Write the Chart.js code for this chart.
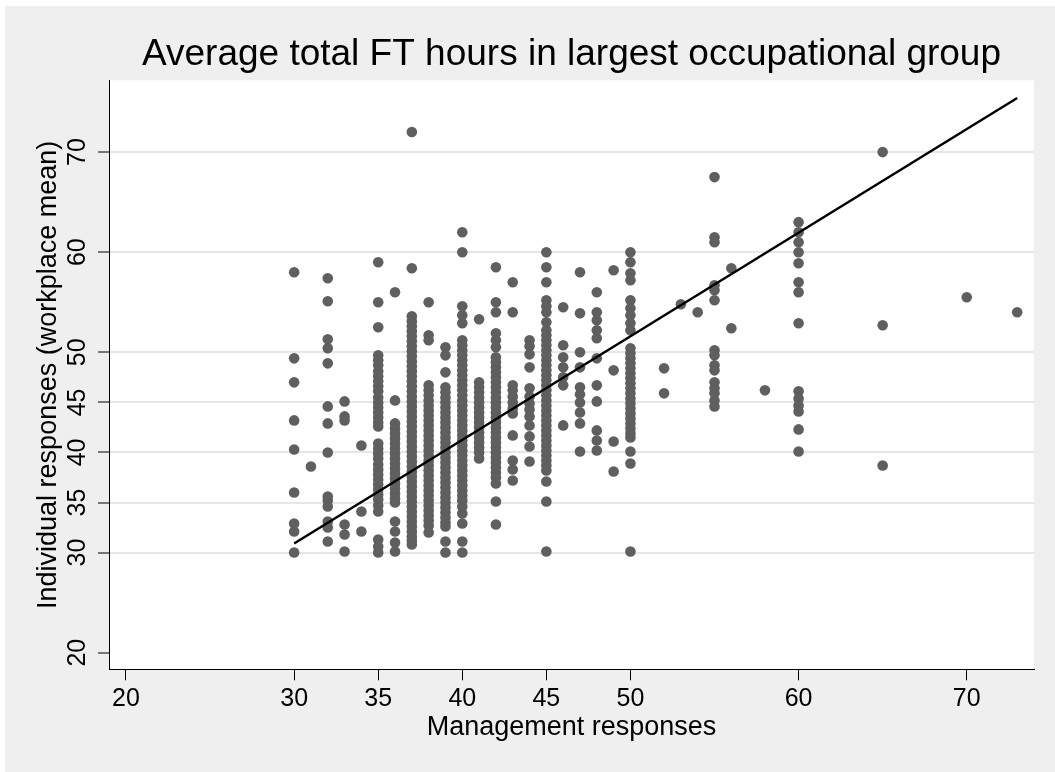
<!DOCTYPE html>
<html>
<head>
<meta charset="utf-8">
<title>Average total FT hours</title>
<script src="https://cdn.jsdelivr.net/npm/chart.js@4.4.1/dist/chart.umd.min.js"></script>
<style>
	html, body { margin: 0; padding: 0; background: #fff; }
	#frame { position: absolute; left: 5px; top: 6px; width: 1050px; height: 766px; background: #efefef; }
	#myChart { display: block; }
</style>
</head>
<body>
<div id="frame"><canvas id="myChart" width="1050" height="766"></canvas></div>
<script>
// management response (x) for each column of points
const mgmt = [30, 31, 32, 33, 34, 35, 36, 37, 38, 39, 40, 41, 42, 43, 44, 45, 46, 47, 48, 49, 50,
	52, 53, 54, 55, 56, 58, 60, 65, 70, 73];

// individual responses (workplace mean)
const indiv = [
	[58.0, 49.4, 47.0, 43.2, 40.3, 36.0, 32.9, 32.1, 30.0],
	[38.6],
	[57.4, 55.1, 51.3, 50.4, 48.9, 44.6, 42.9, 40.0, 35.6, 35.2, 34.6, 33.1, 32.5, 31.1],
	[45.1, 43.6, 43.2, 32.8, 31.8, 30.1],
	[40.7, 34.1, 32.1],
	[59.0, 55.0, 52.5, 49.7, 49.2, 48.7, 48.1, 47.6, 47.1, 46.6, 46.1, 45.5, 45.0, 44.5, 44.0, 43.5, 43.0, 42.6,
		40.9, 40.4, 39.9, 39.4, 38.8, 38.3, 37.8, 37.3, 36.8, 36.3, 35.8, 35.3, 34.7, 34.1, 31.3, 30.6, 30.0],
	[56.0, 45.2, 42.9, 42.4, 41.9, 41.4, 40.9, 40.4, 39.9, 39.4, 38.9, 38.4, 37.9, 37.4, 36.9, 36.4, 35.9, 35.4,
		35.0, 33.1, 32.1, 31.0, 30.1],
	[72.0, 58.4, 53.6, 53.1, 52.6, 52.1, 51.6, 51.1, 50.6, 50.1, 49.6, 49.1, 48.6, 48.1, 47.6, 47.1, 46.6, 46.1,
		45.6, 45.1, 44.6, 44.1, 43.6, 43.1, 42.6, 42.1, 41.6, 41.1, 40.6, 40.1, 39.6, 39.1, 38.6, 38.1, 37.6, 37.1,
		36.6, 36.1, 35.6, 35.1, 34.6, 34.1, 33.6, 33.1, 32.6, 32.1, 31.6, 31.2, 30.8],
	[55.0, 51.7, 51.2, 46.7, 46.2, 45.7, 45.2, 44.7, 44.2, 43.7, 43.2, 42.7, 42.2, 41.7, 41.2, 40.7, 40.2, 39.7,
		39.2, 38.7, 38.2, 37.7, 37.2, 36.7, 36.2, 35.7, 35.2, 34.7, 34.2, 33.7, 33.2, 32.7, 32.0],
	[50.5, 49.7, 48.0, 46.5, 46.0, 45.5, 45.0, 44.5, 44.0, 43.5, 43.0, 42.5, 42.0, 41.5, 41.0, 40.5, 40.0, 39.5,
		39.0, 38.5, 38.0, 37.5, 37.0, 36.5, 36.0, 35.5, 35.0, 34.5, 34.0, 33.5, 33.0, 32.6, 31.1, 30.0],
	[62.0, 60.0, 54.6, 53.7, 52.9, 51.2, 50.7, 50.2, 49.7, 49.2, 48.7, 48.2, 47.7, 47.2, 46.7, 46.2, 45.7, 45.2,
		44.7, 44.2, 43.7, 43.2, 42.7, 42.2, 41.7, 41.2, 40.7, 40.2, 39.7, 39.2, 38.7, 38.2, 37.7, 37.2, 36.7, 36.2,
		35.7, 35.2, 34.6, 33.9, 32.9, 31.1, 30.0],
	[53.3, 47.0, 46.5, 46.0, 45.5, 45.0, 44.5, 44.0, 43.5, 43.0, 42.5, 42.0, 41.5, 41.0, 40.5, 40.0, 39.4],
	[58.5, 55.0, 54.0, 51.9, 51.2, 50.5, 49.5, 49.0, 48.5, 48.0, 47.5, 47.0, 46.5, 46.0, 45.5, 45.0, 44.5, 44.0,
		43.5, 43.0, 42.5, 42.0, 41.5, 41.0, 40.5, 40.0, 39.5, 39.0, 38.5, 38.0, 37.5, 36.9, 35.1, 32.8],
	[57.0, 54.0, 46.7, 46.2, 45.6, 45.0, 44.4, 43.9, 41.7, 39.2, 38.3, 37.2],
	[51.2, 50.6, 49.8, 48.5, 46.4, 45.6, 44.9, 44.3, 43.6, 42.7, 41.6, 40.6, 39.1],
	[60.0, 58.5, 57.0, 55.2, 54.6, 54.0, 53.0, 52.2, 51.7, 51.2, 50.7, 50.2, 49.7, 49.2, 48.7, 48.2, 47.7, 47.2,
		46.7, 46.2, 45.7, 45.2, 44.7, 44.2, 43.7, 43.2, 42.7, 42.2, 41.7, 41.2, 40.7, 40.2, 39.7, 39.2, 38.7, 38.2,
		37.1, 35.1, 30.1],
	[54.5, 50.7, 49.5, 48.5, 47.5, 46.7, 42.7],
	[58.0, 53.9, 50.0, 48.5, 46.5, 45.8, 45.0, 44.0, 42.9, 40.1],
	[56.0, 54.0, 53.2, 52.2, 51.4, 49.4, 46.7, 45.1, 42.2, 41.2, 40.2],
	[58.2, 48.2, 41.1, 38.1],
	[60.0, 59.0, 57.9, 57.2, 55.2, 54.4, 53.7, 52.9, 52.2, 50.4, 49.9, 49.4, 48.9, 48.4, 47.9, 47.4, 46.9, 46.4,
		45.9, 45.4, 44.9, 44.4, 43.9, 43.4, 42.9, 42.4, 41.9, 41.5, 40.1, 38.9, 30.1],
	[48.4, 45.9],
	[54.8],
	[54.0],
	[67.5, 61.5, 61.0, 56.7, 56.2, 55.2, 50.2, 49.7, 48.7, 48.2, 47.0, 46.4, 45.9, 45.2, 44.6],
	[58.4, 52.4],
	[46.2],
	[63.0, 62.0, 61.0, 60.0, 58.9, 57.0, 56.0, 52.9, 46.1, 45.4, 44.7, 44.1, 42.3, 40.1],
	[70.0, 52.7, 38.7],
	[55.5],
	[54.0]
];

// fitted line end points
const fitX = [30, 73];
const fitY = [30.9, 75.4];

const xTicks = [20, 30, 35, 40, 45, 50, 60, 70];
const yTicks = [20, 30, 35, 40, 45, 50, 60, 70];

const FONT = '"Liberation Sans", Arial, Helvetica, sans-serif';

var chart;

// white plot region on the grey background
const plotBg = {
	id: 'plotBg',
	beforeDraw(chart) {
		const a = chart.chartArea, c = chart.ctx;
		c.save();
		c.fillStyle = '#fff';
		c.fillRect(a.left, a.top, a.right - a.left, a.bottom - a.top);
		c.restore();
	}
};

// y tick labels are rotated like the x ones in stata
const yTickLabels = {
	id: 'yTickLabels',
	afterDraw(chart) {
		const sc = chart.scales.y, c = chart.ctx;
		c.save();
		c.fillStyle = '#000';
		c.font = '25px ' + FONT;
		c.textAlign = 'center';
		c.textBaseline = 'middle';
		sc.ticks.forEach(function(t) {
			const py = sc.getPixelForValue(t.value);
			c.save();
			c.translate(sc.right - 31, py);
			c.rotate(-Math.PI / 2);
			c.fillText(String(t.label), 0, 0);
			c.restore();
		});
		c.restore();
	}
};

const points = [];
mgmt.forEach(function(x, i) {
	indiv[i].forEach(function(y) { points.push({x: x, y: y}); });
});

const ctx = document.getElementById('myChart');
chart = new Chart(ctx, {
	type: 'scatter',
	data: {
		datasets: [{
			label: 'Fitted values',
			data: fitX.map(function(x, i) { return {x: x, y: fitY[i]}; }),
			showLine: true,
			borderColor: '#000',
			borderWidth: 2.5,
			pointRadius: 0,
			order: 0
		}, {
			label: 'Individual responses',
			data: points,
			pointRadius: 5.3,
			pointBorderWidth: 0,
			pointBackgroundColor: '#5f5f5f',
			borderColor: '#5f5f5f',
			order: 1
		}]
	},
	options: {
		responsive: false,
		animation: false,
		devicePixelRatio: 1,
		layout: { padding: { left: 0, right: 21, top: 0, bottom: 0 } },
		plugins: {
			legend: { display: false },
			tooltip: { enabled: false },
			title: {
				display: true,
				fullSize: false,
				text: 'Average total FT hours in largest occupational group',
				color: '#000',
				font: { family: FONT, size: 37, weight: 'normal' },
				padding: { top: 27, bottom: 3 }
			}
		},
		scales: {
			x: {
				type: 'linear',
				min: 18.99,
				max: 74.0,
				afterBuildTicks: function(s) { s.ticks = xTicks.map(function(v) { return {value: v}; }); },
				afterFit: function(s) { s.height = 102.7; },
				grid: { drawOnChartArea: false, tickLength: 11, tickColor: '#000', tickWidth: 1 },
				border: { color: '#000', width: 1 },
				ticks: { color: '#000', font: { family: FONT, size: 25 }, padding: 4, autoSkip: false, maxRotation: 0 },
				title: {
					display: true,
					text: 'Management responses',
					color: '#000',
					font: { family: FONT, size: 27 },
					padding: { top: 0, bottom: 28 }
				}
			},
			y: {
				type: 'linear',
				min: 18.34,
				max: 77.16,
				afterBuildTicks: function(s) { s.ticks = yTicks.map(function(v) { return {value: v}; }); },
				afterFit: function(s) { s.width = 104; },
				grid: {
					color: function(c) { return (c.tick && c.tick.value === 20) ? 'rgba(0,0,0,0)' : '#e6e6e6'; },
					lineWidth: 2,
					tickLength: 11,
					tickColor: '#000',
					tickWidth: 1
				},
				border: { color: '#000', width: 1 },
				ticks: { display: false },
				title: {
					display: true,
					text: 'Individual responses (workplace mean)',
					color: '#000',
					font: { family: FONT, size: 27 },
					padding: { top: 27, bottom: 0 }
				}
			}
		}
	},
	plugins: [plotBg, yTickLabels]
});
</script>
</body>
</html>
